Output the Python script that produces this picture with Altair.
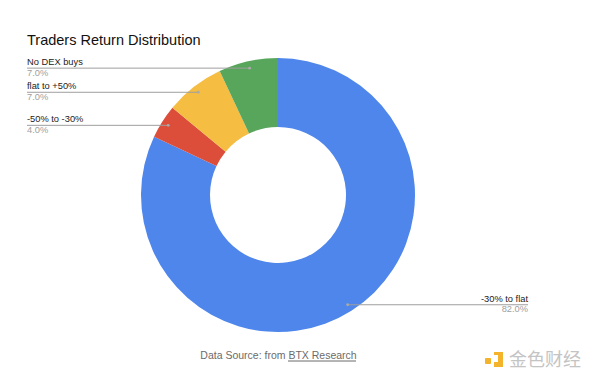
import math
import altair as alt
import pandas as pd

# ---- data ----
categories = ["-30% to flat", "-50% to -30%", "flat to +50%", "No DEX buys"]
values = [82.0, 4.0, 7.0, 7.0]
colors = ["#4E86EC", "#DC4E3A", "#F5BD41", "#58A65C"]

title_text = "Traders Return Distribution"
footer_text = "Data Source: from BTX Research"
watermark_text = "金色财经"

# ---- layout constants (chart pixel space) ----
W, H = 584, 363
CX, CY = 270, 187
R_OUT, R_IN, R_DOT = 137, 68, 130
LEFT_X, RIGHT_X = 19, 520

df = pd.DataFrame({"cat": categories, "value": values, "idx": range(len(values))})

# derived label geometry from the data
total = sum(values)
rows = []
cum = 0.0
for c, v in zip(categories, values):
    mid = (cum + v / 2) / total * 2 * math.pi
    cum += v
    dx = CX + R_DOT * math.sin(mid)
    dy = CY - R_DOT * math.cos(mid)
    left = mid > math.pi
    rows.append({
        "cat": c,
        "pct": f"{v:.1f}%",
        "dx": dx,
        "dy": dy,
        "lx": LEFT_X if left else RIGHT_X,
        "align": "left" if left else "right",
        "ty": dy - 3,
        "vy": dy + 7.5,
    })
lab = pd.DataFrame(rows)

FONT = "Liberation Sans"

arc = alt.Chart(df).mark_arc(outerRadius=R_OUT, innerRadius=R_IN, stroke=None).encode(
    theta=alt.Theta("value:Q", stack=True),
    color=alt.Color("cat:N", scale=alt.Scale(domain=categories, range=colors), legend=None),
    order=alt.Order("idx:Q"),
    x=alt.value(CX),
    y=alt.value(CY),
)

lines = alt.Chart(lab).mark_rule(color="#9e9e9e", strokeWidth=1).encode(
    x=alt.X("lx:Q", scale=None, axis=None),
    x2="dx:Q",
    y=alt.Y("dy:Q", scale=None, axis=None),
)

dots = alt.Chart(lab).mark_circle(color="#aaaaaa", size=8, opacity=1).encode(
    x=alt.X("dx:Q", scale=None, axis=None),
    y=alt.Y("dy:Q", scale=None, axis=None),
)

lab_left = lab[lab["align"] == "left"]
lab_right = lab[lab["align"] == "right"]

def labels(d, align):
    t1 = alt.Chart(d).mark_text(align=align, baseline="alphabetic", font=FONT, fontSize=9.3, color="#222222").encode(
        x=alt.X("lx:Q", scale=None, axis=None),
        y=alt.Y("ty:Q", scale=None, axis=None),
        text="cat:N",
    )
    t2 = alt.Chart(d).mark_text(align=align, baseline="alphabetic", font=FONT, fontSize=9.3, color="#a0a0a0").encode(
        x=alt.X("lx:Q", scale=None, axis=None),
        y=alt.Y("vy:Q", scale=None, axis=None),
        text="pct:N",
    )
    return t1 + t2

title = alt.Chart(pd.DataFrame({"t": [title_text]})).mark_text(
    align="left", baseline="alphabetic", font=FONT, fontSize=14.5, color="#111111"
).encode(x=alt.value(19), y=alt.value(37), text="t:N")

footer = alt.Chart(pd.DataFrame({"t": [footer_text]})).mark_text(
    align="center", baseline="alphabetic", font=FONT, fontSize=10.5, color="#6b6b6b"
).encode(x=alt.value(270.5), y=alt.value(351), text="t:N")

underline = alt.Chart(pd.DataFrame({"a": [0]})).mark_rule(color="#6b6b6b", strokeWidth=1).encode(
    x=alt.value(280), x2=alt.value(348), y=alt.value(353)
)

wm = alt.Chart(pd.DataFrame({"t": [watermark_text]})).mark_text(
    align="left", baseline="alphabetic", font="Noto Sans CJK SC", fontSize=18, color="#c4c4c4"
).encode(x=alt.value(501), y=alt.value(358), text="t:N")

icon1 = alt.Chart(pd.DataFrame({"a": [0]})).mark_rect(color="#F3B42C", cornerRadius=1).encode(
    x=alt.value(477), x2=alt.value(483), y=alt.value(350), y2=alt.value(356)
)
icon2 = alt.Chart(pd.DataFrame({"a": [0]})).mark_rect(color="#F3B42C").encode(
    x=alt.value(490), x2=alt.value(495), y=alt.value(344), y2=alt.value(359)
)
icon3 = alt.Chart(pd.DataFrame({"a": [0]})).mark_rect(color="#F3B42C").encode(
    x=alt.value(486), x2=alt.value(495), y=alt.value(354), y2=alt.value(359)
)
icon4 = alt.Chart(pd.DataFrame({"a": [0]})).mark_rect(color="#F3B42C").encode(
    x=alt.value(486), x2=alt.value(495), y=alt.value(344), y2=alt.value(347)
)

chart = alt.layer(
    arc, lines, dots, labels(lab_left, "left"), labels(lab_right, "right"),
    title, footer, underline, icon1, icon2, icon3, icon4, wm,
).properties(
    width=W, height=H, padding=0, autosize=alt.AutoSizeParams(type="none")
).configure_view(stroke=None)

chart.save("out.html", embed_options={"renderer": "svg", "actions": False})
